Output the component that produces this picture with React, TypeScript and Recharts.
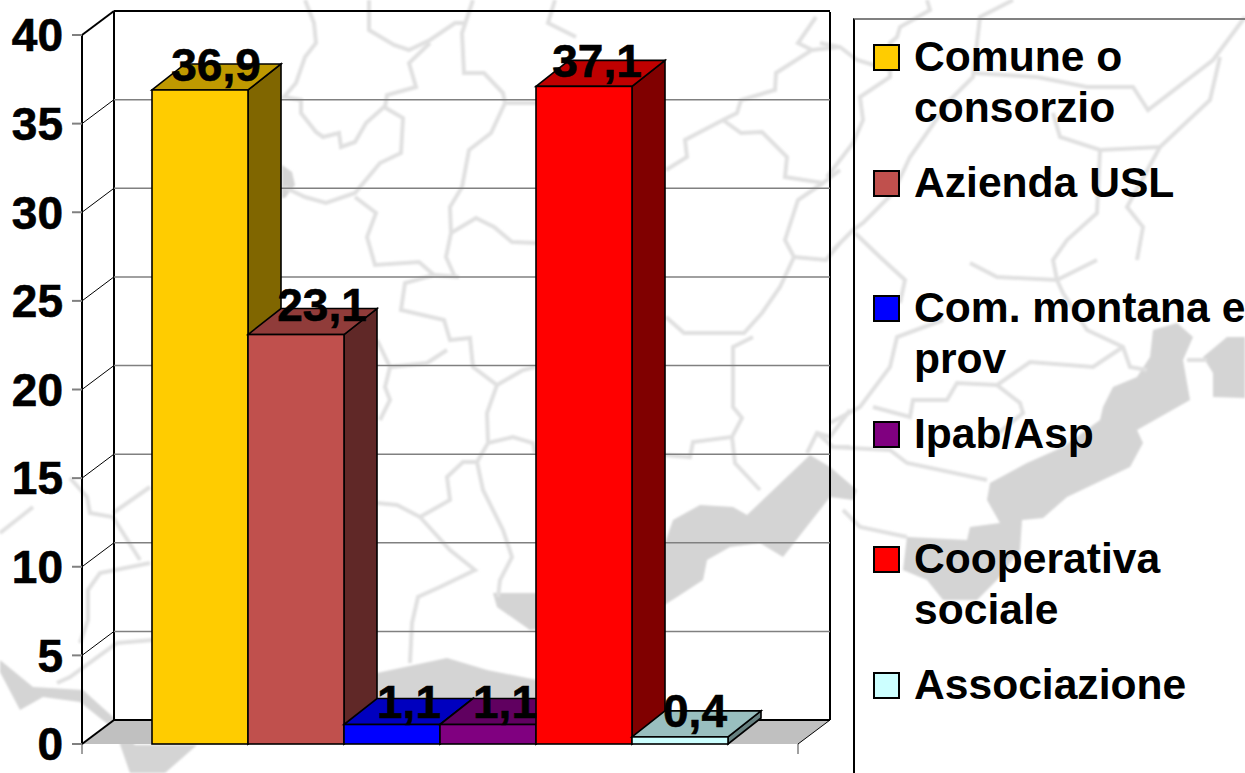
import React from 'react';
import { BarChart, Bar, XAxis, YAxis, CartesianGrid, Legend, LabelList } from 'recharts';

const seriesNames = ['Comune o consorzio', 'Azienda USL', 'Com. montana e prov', 'Ipab/Asp', 'Cooperativa sociale', 'Associazione'];
const seriesValues = [36.9, 23.1, 1.1, 1.1, 37.1, 0.4];
const seriesLabels = ['36,9', '23,1', '1,1', '1,1', '37,1', '0,4'];
const seriesColors = ['#FFCC00', '#C0504D', '#0000FF', '#800080', '#FF0000', '#CCFFFF'];
const yTicks = [0, 5, 10, 15, 20, 25, 30, 35, 40];

const tableRow: Record<string, string | number> = { name: '' };
seriesNames.forEach((n, i) => {
  tableRow[n] = seriesValues[i];
});
const chartData = [tableRow];

const FONT = '"Liberation Sans", Arial, sans-serif';
const WALL_DX = 32;
const WALL_DY = 24;
const BAR_DX = 33;
const BAR_DY = 26;
// label nudges, the original labels sit a bit off the bar centre
const labelNudge = [[16, -9], [26, -14], [17, -7], [17, -7], [13, -9], [15, -10]];

// faint map behind the chart
const mapLines = [
  '305,0 314,23 316,43 305,57 296,83 284,97 301,100 301,113 316,132 323,137 339,133 341,147 355,142 366,123 384,107 403,118 401,153 380,163 355,193 326,203 305,197 284,187',
  '369,0 369,30 394,45 409,50 430,40 455,23 466,23',
  '430,43 409,63 416,87 387,95 385,107',
  '473,0 462,33 464,73 484,73 503,93 505,103 491,133 469,150 462,187 450,207 451,233 446,257 455,277',
  '505,103 537,103',
  '451,233 476,218 494,227 512,242 537,243',
  '355,197 376,213 367,237 375,265 419,262 434,275 459,277',
  '434,275 405,283 401,310 444,320 447,330 450,340 470,338 473,367 497,385 523,370 535,367',
  '555,0 548,23 576,37',
  '816,17 798,43 812,50 776,73 775,90 741,100 737,113 723,120 685,140 687,157 666,170',
  '723,120 741,133 762,132 787,157 785,177 823,183 840,170',
  '840,47 812,50',
  '823,183 798,200 785,240 794,257 780,287 762,313 744,333 684,333 666,317',
  '794,257 826,260 840,243',
  '377,340 390,367 427,363 447,350',
  '390,367 385,387 390,400 380,420',
  '497,385 487,413 488,443 513,437 533,443 535,453',
  '488,443 477,462 463,462 447,477 450,500 420,517 397,505 377,503',
  '477,462 483,490 503,530 512,557 500,580 498,597',
  '420,517 450,550 475,570 440,587 418,597 412,623 410,663',
  '753,337 733,347 733,407 742,418 732,437 693,442 690,457 665,455',
  '732,437 735,463 760,490',
  '807,453 817,433 830,437 850,410',
  '817,433 833,447 850,447',
  '927,0 930,10 900,27 897,37 890,43 890,77 860,97 863,120 853,143 827,177',
  '1013,0 980,17 973,77 950,100 910,157 893,193 863,223 853,230 833,250',
  '820,43 840,47 857,60 890,70',
  '973,73 1037,77 1087,87 1133,87 1148,110 1213,60 1245,17',
  '1053,113 1060,137 1100,150 1160,147 1210,100 1220,57',
  '1100,150 1097,213 1067,240 1053,260 1057,280',
  '1160,147 1127,207 1143,227 1137,260',
  '855,233 880,257 905,280 900,303',
  '943,320 897,337 890,367 860,407 830,423',
  '970,263 997,277 1057,280 1097,260',
  '1057,280 1063,293 1087,330 1123,347 1130,367 1147,370',
  '1123,347 1093,367 1030,362 997,385 1020,403 1023,413 990,440',
  '997,385 957,383 947,400 913,400 910,417 873,407',
  '830,447 890,450 907,463 987,480',
  '1187,360 1207,360',
  '843,510 860,527 907,537',
  '33,507 0,533',
  '70,478 87,497 90,513 113,517 123,533 140,560',
  '113,513 150,487',
  '150,563 100,573 88,590 88,620 80,643',
  '153,640 117,643 70,677 57,683',
];
const mapAreas = [
  '493,593 537,593 665,543 673,520 700,505 733,507 747,515 810,455 830,467 857,490 853,500 830,497 783,557 760,543 730,547 707,560 703,580 677,597 640,620 530,630 497,607',
  '907,537 903,570 927,580 943,600 977,600 997,580 1020,550 1022,520 1043,518 1067,497 1130,467 1143,443 1137,430 1190,400 1183,360 1193,337 1177,323 1153,330 1150,357 1137,377 1113,387 1103,407 1100,420 1063,447 1027,463 990,483 987,500 1000,523 970,527 967,540',
  '1245,337 1227,337 1203,357 1213,373 1213,397 1245,398',
  '340,690 377,673 447,658 487,670 537,680 537,725 340,725',
  '282,165 292,172 295,185 285,198 282,198',
  '0,660 33,687 83,690 113,717 135,745 197,745 165,773 130,773 115,730 80,702 43,697 20,710 0,672',
];

function shade(hex: string, k: number) {
  const num = parseInt(hex.replace('#', ''), 16);
  const r = Math.round(((num >> 16) & 255) * k);
  const g = Math.round(((num >> 8) & 255) * k);
  const b = Math.round((num & 255) * k);
  return `rgb(${r},${g},${b})`;
}

// 3D box: front face plus the top and the side going back
const Box3D = (props: any) => {
  const { x, y, width, height, fill } = props;
  const right = x + width;
  const bottom = y + height;
  return (
    <g stroke="#000" strokeWidth={1.6} strokeLinejoin="miter">
      <polygon points={`${right},${y} ${right + BAR_DX},${y - BAR_DY} ${right + BAR_DX},${bottom - BAR_DY} ${right},${bottom}`} fill={shade(fill, 0.5)} />
      <polygon points={`${x},${y} ${x + BAR_DX},${y - BAR_DY} ${right + BAR_DX},${y - BAR_DY} ${right},${y}`} fill={shade(fill, 0.75)} />
      <rect x={x} y={y} width={width} height={height} fill={fill} />
    </g>
  );
};

// each grid line runs along the left wall and then across the back wall
const WallLine = (props: any) => {
  const { x1, x2, y1, index } = props;
  const backY = y1 - WALL_DY;
  const isFloor = y1 > 740;
  const isTop = y1 < 40;
  const edge = isFloor || isTop;
  return (
    <g key={index}>
      {isFloor && (
        <>
          <polygon
            points={`${x1},${y1} ${x1 + WALL_DX},${backY} ${x2 + WALL_DX},${backY} ${x2},${y1}`}
            fill="#C0C0C0"
          />
          <line x1={x1} y1={y1} x2={x1} y2={y1 + 10} stroke="#808080" strokeWidth={1.5} />
          <line x1={x2} y1={y1} x2={x2} y2={y1 + 10} stroke="#808080" strokeWidth={1.5} />
          <line x1={x2} y1={y1} x2={x2 + WALL_DX} y2={backY} stroke="#000" strokeWidth={1} />
          <line x1={x1 + WALL_DX} y1={backY} x2={x1 + WALL_DX} y2={12} stroke="#000" strokeWidth={2} />
          <line x1={x2 + WALL_DX} y1={backY} x2={x2 + WALL_DX} y2={12} stroke="#000" strokeWidth={2} />
        </>
      )}
      <line x1={x1} y1={y1} x2={x1 + WALL_DX} y2={backY} stroke="#000" strokeWidth={edge ? 2 : 1} />
      <line
        x1={x1 + WALL_DX}
        y1={backY}
        x2={x2 + WALL_DX}
        y2={backY}
        stroke={edge ? '#000' : '#808080'}
        strokeWidth={edge ? 2 : 1.5}
      />
    </g>
  );
};

const LegendBox = ({ payload }: any) => (
  <div
    style={{
      boxSizing: 'border-box',
      width: 420,
      height: 780,
      paddingLeft: 18,
      paddingTop: 24,
      borderLeft: '2px solid #000',
      borderTop: '2px solid #808080',
      fontFamily: FONT,
      fontSize: 42.6,
      fontWeight: 'bold',
      lineHeight: '51px',
      color: '#000',
    }}
  >
    {(payload || []).map((item: any) => (
      <div key={item.value} style={{ position: 'relative', height: 125.6 }}>
        <div
          style={{
            position: 'absolute',
            left: 0,
            top: 0,
            width: 27,
            height: 27,
            boxSizing: 'border-box',
            border: '2px solid #000',
            backgroundColor: item.color,
          }}
        />
        <div style={{ position: 'absolute', left: 41, top: -13, width: 335 }}>{item.value}</div>
      </div>
    ))}
  </div>
);

const App = () => {
  return (
    <div style={{ position: 'absolute', left: 0, top: 0, width: 1245, height: 773, overflow: 'hidden', background: '#fff' }}>
      <svg width={1245} height={773} style={{ position: 'absolute', left: 0, top: 0 }}>
        <defs>
          <filter id="soft">
            <feGaussianBlur stdDeviation="1" />
          </filter>
        </defs>
        <g filter="url(#soft)">
          {mapAreas.map((p, i) => (
            <polygon key={i} points={p} fill="#D4D4D4" />
          ))}
          {mapLines.map((p, i) => (
            <polyline key={i} points={p} fill="none" stroke="#E0E0E0" strokeWidth={4} />
          ))}
        </g>
      </svg>
      <div style={{ position: 'absolute', left: 0, top: 0 }}>
        <BarChart
          width={1245}
          height={773}
          data={chartData}
          margin={{ top: 35, right: 447, bottom: 29, left: 0 }}
          barGap={0}
          barCategoryGap={70}
        >
          <CartesianGrid vertical={false} horizontal={(p: any) => <WallLine {...p} />} />
          <XAxis
            dataKey="name"
            height={0}
            tick={false}
            tickLine={false}
            axisLine={{ stroke: '#808080', strokeWidth: 2 }}
          />
          <YAxis
            width={82}
            domain={[0, 40]}
            ticks={yTicks}
            interval={0}
            axisLine={{ stroke: '#000', strokeWidth: 2 }}
            tickLine={{ stroke: '#808080', strokeWidth: 2 }}
            tickSize={10}
            tickMargin={9}
            tick={{ fontFamily: FONT, fontSize: 46, fontWeight: 'bold', fill: '#000', stroke: '#000', strokeWidth: 0.6 }}
          />
          <Legend
            layout="vertical"
            align="center"
            verticalAlign="middle"
            itemSorter={null}
            content={<LegendBox />}
            wrapperStyle={{ left: 853, top: 18, width: 420, height: 780 }}
          />
          {seriesNames.map((name, i) => (
            <Bar key={name} dataKey={name} fill={seriesColors[i]} shape={<Box3D />} isAnimationActive={false}>
              <LabelList
                dataKey={name}
                content={(p: any) => (
                  <text
                    x={p.x + p.width / 2 + labelNudge[i][0]}
                    y={p.y + labelNudge[i][1]}
                    textAnchor="middle"
                    fontFamily={FONT}
                    fontSize={46}
                    fontWeight="bold"
                    fill="#000"
                    stroke="#000"
                    strokeWidth={0.6}
                  >
                    {seriesLabels[i]}
                  </text>
                )}
              />
            </Bar>
          ))}
        </BarChart>
      </div>
    </div>
  );
};

export default App;
